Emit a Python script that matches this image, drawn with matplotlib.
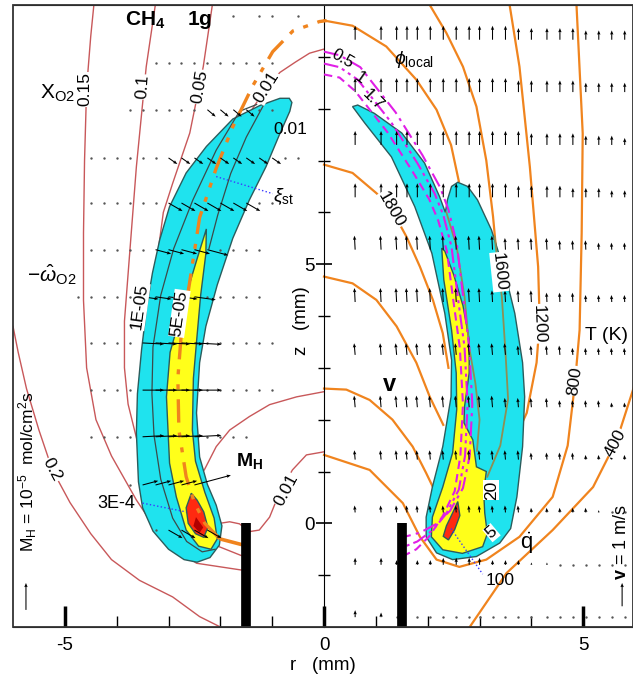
import numpy as np
import matplotlib.pyplot as plt
from matplotlib.patches import Polygon, Rectangle

plt.rcParams['font.family'] = ['Liberation Sans', 'DejaVu Sans']
plt.rcParams['mathtext.fontset'] = 'custom'
plt.rcParams['mathtext.rm'] = 'Liberation Sans'
plt.rcParams['mathtext.it'] = 'Liberation Sans:italic'
plt.rcParams['mathtext.bf'] = 'Liberation Sans:bold'
plt.rcParams['axes.unicode_minus'] = False

# ================================================================
# Data, (r, z) in mm
# ================================================================
WALL_R = [-1.5, 1.5]
WALL_Z = [-2.0, 0.0]

# left half: -omega_O2 regions
LEFT_CYAN = [(-0.67, 8.2), (-0.85, 8.2), (-1.24, 8.06), (-1.76, 7.8), (-2.27, 7.27), (-2.66, 6.76),
             (-2.98, 6.11), (-3.17, 5.47), (-3.31, 4.83), (-3.42, 4.18), (-3.52, 3.35), (-3.6, 2.5),
             (-3.62, 1.75), (-3.58, 0.8), (-3.5, 0.3), (-3.3, -0.15), (-3.0, -0.5), (-2.7, -0.7),
             (-2.45, -0.75), (-2.2, -0.66), (-2.02, -0.42), (-1.97, -0.05), (-2.08, 0.35), (-2.25, 0.75),
             (-2.4, 1.28), (-2.46, 2.13), (-2.4, 3.1), (-2.28, 3.8), (-2.06, 4.6), (-1.76, 5.5),
             (-1.44, 6.24), (-1.12, 6.88), (-0.86, 7.5), (-0.66, 7.95), (-0.62, 8.12)]
LEFT_YELLOW = [(-2.27, 5.68), (-2.45, 5.1), (-2.6, 4.6), (-2.8, 3.9), (-2.97, 3.3), (-3.04, 2.44),
               (-2.98, 1.16), (-2.85, 0.51), (-2.66, -0.13), (-2.42, -0.44), (-2.18, -0.5), (-2.06, -0.3),
               (-2.12, 0.1), (-2.3, 0.6), (-2.48, 1.2), (-2.54, 1.8), (-2.52, 2.8), (-2.46, 3.5),
               (-2.38, 4.4), (-2.28, 5.2)]
LEFT_RED = [(-2.56, 0.58), (-2.66, 0.3), (-2.62, 0.0), (-2.48, -0.2), (-2.32, -0.27), (-2.24, -0.08),
            (-2.32, 0.22), (-2.45, 0.45)]
LEFT_RED_CORE = [(-2.47, 0.12), (-2.52, -0.05), (-2.4, -0.18), (-2.33, -0.08)]
LEFT_LINE_1E5 = [(-1.3, 8.08), (-1.63, 7.95), (-2.08, 7.2), (-2.53, 6.24), (-2.9, 5.3), (-3.15, 4.4),
                 (-3.3, 3.4), (-3.32, 2.5), (-3.28, 1.7), (-3.15, 0.85), (-2.92, 0.1), (-2.65, -0.35),
                 (-2.35, -0.55), (-2.1, -0.5)]
LEFT_LINE_5E5 = [(-1.15, 8.1), (-1.5, 7.45), (-1.8, 6.75), (-2.05, 5.95), (-2.22, 5.3)]

# stoichiometric mixture fraction
XI_BASE = [(-1.55, -0.42), (-2.01, -0.3)]
XI_ST = [(-2.01, -0.3), (-2.3, 0.0), (-2.5, 0.4), (-2.66, 0.9), (-2.8, 1.8), (-2.82, 2.8), (-2.75, 3.7),
         (-2.6, 4.6), (-2.4, 5.9), (-2.08, 6.85), (-1.76, 7.65), (-1.37, 8.45), (-0.99, 9.1),
         (-0.6, 9.5), (-0.09, 9.68), (0.05, 9.7)]

# X_O2 contours
XO2_020 = [(-2.0, -2.0), (-2.4, -1.8), (-2.92, -1.42), (-3.56, -1.1), (-4.1, -0.7), (-4.5, -0.2),
           (-4.9, 0.4), (-5.24, 1.03), (-5.5, 1.8), (-5.74, 2.6), (-5.9, 3.3), (-6.0, 3.8)]
XO2_015 = [(-4.43, 10.1), (-4.5, 9.4), (-4.58, 8.4), (-4.62, 7.0), (-4.64, 5.6), (-4.64, 4.3),
           (-4.58, 3.0), (-4.4, 2.0), (-4.1, 1.3), (-3.62, 0.45), (-3.12, -0.3), (-2.46, -0.77),
           (-1.6, -0.9)]
XO2_010 = [(-3.24, 10.1), (-3.43, 8.81), (-3.62, 6.88), (-3.75, 5.2), (-3.85, 3.9), (-3.85, 3.0),
           (-3.78, 2.3), (-3.56, 1.41), (-3.24, 0.78), (-2.79, 0.12), (-2.4, -0.3), (-1.6, -0.62)]
XO2_005 = [(-2.14, 10.1), (-2.33, 8.81), (-2.59, 7.53), (-2.92, 6.56), (-3.1, 6.0), (-3.24, 4.95),
           (-3.37, 3.67)]
XO2_001 = [(0.0, 9.15), (-0.28, 9.07), (-0.55, 8.9), (-0.85, 8.7), (-1.1, 8.42), (-1.38, 8.0),
           (-1.6, 7.6)]
XO2_001B = [(-2.31, 1.03), (-2.08, 1.48), (-1.82, 1.8), (-1.44, 2.06), (-1.05, 2.29), (-0.53, 2.44),
            (0.0, 2.54)]
XO2_001C = [(-2.01, 0.0), (-1.82, 0.03), (-1.63, -0.01), (-1.44, -0.16), (-1.25, -0.13), (-1.05, 0.12),
            (-0.86, 0.59), (-0.61, 1.03), (-0.34, 1.32), (0.0, 1.38)]

# right half: heat release regions
RIGHT_CYAN = [(0.55, 8.04), (0.78, 7.73), (1.3, 7.07), (1.75, 6.11), (2.08, 5.21), (2.33, 4.05),
              (2.46, 3.15), (2.45, 2.44), (2.29, 1.48), (2.09, 0.7), (1.97, 0.12), (1.97, -0.26),
              (2.17, -0.57), (2.48, -0.7), (2.94, -0.64), (3.39, -0.38), (3.6, -0.1), (3.72, 0.51),
              (3.83, 1.48), (3.87, 2.44), (3.83, 3.1), (3.68, 4.05), (3.49, 4.83), (3.23, 5.66),
              (2.96, 6.24), (2.77, 6.5), (2.58, 6.58), (2.46, 6.5), (2.38, 6.24), (2.34, 6.0),
              (2.23, 6.3), (1.94, 6.95), (1.5, 7.53), (0.97, 7.91), (0.65, 8.07)]
RIGHT_YELLOW = [(2.27, 5.31), (2.31, 4.7), (2.46, 3.73), (2.55, 2.9), (2.56, 2.2), (2.48, 1.36),
                (2.29, 0.7), (2.09, 0.12), (2.07, -0.26), (2.29, -0.51), (2.67, -0.58), (3.06, -0.45),
                (3.15, -0.2), (3.1, 0.2), (3.08, 0.6), (3.13, 1.0), (2.94, 1.09), (2.87, 1.61),
                (2.7, 1.94), (2.71, 2.25), (2.8, 2.9), (2.8, 3.54), (2.68, 4.2), (2.5, 4.8), (2.33, 5.25)]
RIGHT_RED = [(2.58, 0.42), (2.48, 0.2), (2.36, -0.05), (2.3, -0.25), (2.4, -0.32), (2.52, -0.12),
             (2.62, 0.15)]
RIGHT_OLIVE_1 = [(2.36, 6.0), (2.56, 5.33), (2.71, 4.37), (2.8, 3.4), (2.92, 2.7), (3.0, 2.0), (2.95, 1.4)]
RIGHT_OLIVE_2 = [(3.29, 5.53), (3.43, 4.37), (3.5, 3.3), (3.55, 2.4), (3.4, 1.5), (3.15, 0.9)]

# local equivalence ratio
PHI_05 = [(0.0, 9.1), (0.3, 9.03), (0.7, 8.8), (1.38, 7.93), (1.9, 7.1), (2.24, 6.48), (2.4, 6.05),
          (2.56, 5.4), (2.68, 4.4), (2.8, 3.4), (2.86, 2.3), (2.81, 1.3), (2.68, 0.68), (2.43, 0.24),
          (2.15, -0.02), (1.85, -0.18), (1.55, -0.26)]
PHI_1 = [(0.0, 8.87), (0.3, 8.8), (0.65, 8.56), (1.3, 7.73), (1.8, 6.95), (2.13, 6.37), (2.3, 5.95),
         (2.46, 5.33), (2.58, 4.37), (2.71, 3.4), (2.77, 2.3), (2.72, 1.3), (2.6, 0.65), (2.36, 0.19),
         (2.1, -0.13), (1.8, -0.35), (1.55, -0.45)]
PHI_17 = [(0.0, 8.66), (0.3, 8.6), (0.6, 8.34), (1.22, 7.55), (1.7, 6.8), (2.03, 6.25), (2.2, 5.85),
          (2.37, 5.25), (2.49, 4.33), (2.62, 3.38), (2.68, 2.3), (2.63, 1.3), (2.52, 0.62),
          (2.29, 0.14), (2.03, -0.25), (1.78, -0.5), (1.55, -0.62)]

# temperature contours
T_TOP = [(0.0, 9.7), (0.55, 9.6), (1.2, 9.2), (1.78, 8.56), (2.17, 7.98), (2.45, 7.3), (2.6, 6.6)]
T_1800 = [(0.0, 6.92), (0.55, 6.76), (1.01, 6.37), (1.3, 6.06), (1.59, 5.53), (1.85, 4.95),
          (2.1, 4.31), (2.29, 3.67), (2.4, 3.0)]
T_MID1 = [(0.0, 4.76), (0.55, 4.63), (1.01, 4.31), (1.4, 3.8), (1.78, 3.1), (2.04, 2.44), (2.3, 1.9)]
T_MID2 = [(0.0, 2.6), (0.43, 2.58), (0.88, 2.38), (1.32, 2.0), (1.71, 1.48), (1.97, 0.97), (2.1, 0.7)]
T_800 = [(0.0, 1.32), (0.88, 1.03), (1.52, 0.39), (1.85, -0.26), (2.17, -0.7), (2.61, -0.84),
         (3.13, -0.7), (3.77, -0.26), (4.41, 0.51), (4.7, 1.5), (4.84, 2.7), (4.93, 3.73),
         (4.97, 5.6), (4.99, 7.52), (4.87, 10.0)]
T_1600 = [(2.04, 10.0), (2.36, 9.46), (2.68, 8.81), (2.94, 8.04), (3.13, 7.0), (3.26, 5.92),
          (3.35, 4.95), (3.43, 3.67)]
T_1200 = [(3.58, 10.0), (3.77, 8.81), (3.97, 6.88), (4.13, 4.95), (4.16, 3.9), (4.1, 3.1),
          (3.91, 2.13), (3.52, 1.28), (3.13, 0.7)]
T_400 = [(6.0, 2.7), (5.65, 1.61), (5.19, 0.7), (4.41, -0.13), (3.52, -0.96), (2.81, -2.0)]

# dotted leaders
LEAD_XI = [(-2.08, 6.69), (-0.99, 6.36)]
LEAD_3E4 = [(-3.5, 0.39), (-2.66, 0.22)]
LEAD_100 = [(2.45, -0.1), (3.06, -0.98)]

# M_H field (left): one char per column, ' ' none, '.' dot, digit = 2e-6 mol/cm2s
LEFT_R = [-4.75, -4.5, -4.25, -4.0, -3.75, -3.5, -3.25, -3.0, -2.75, -2.5, -2.25, -2.0,
          -1.75, -1.5, -1.25, -1.0, -0.75, -0.5]
LEFT_Z = [9.78, 8.89, 7.98, 7.05, 6.18, 5.28, 4.37, 3.48, 2.57, 1.67, 0.74, -0.13]
LEFT_MH = ["            . .. .",
           "      ..........  ",
           "    ......2222..  ",
           " ......222222222..",
           " ......3333333..  ",
           " .....33334....   ",
           ".....33334.....   ",
           " ....44445......  ",
           " ....44445......  ",
           " ....44445....    ",
           "    .33337        ",
           "      .3333       "]
LEFT_ANG = [0, 0, -40, -35, -30, -15, -8, -3, 0, 3, 15, -30]

# velocity field (right): digit = 0.1 m/s, '0' dot
RIGHT_R = [0.6, 1.1, 1.4, 1.6, 1.8, 2.05, 2.3, 2.55, 2.8, 3.0, 3.25, 3.5, 3.75, 4.0, 4.3,
           4.55, 4.8, 5.05, 5.3, 5.55, 5.8]
RIGHT_Z = [9.33, 8.32, 7.30, 6.29, 5.28, 4.27, 3.25, 2.24, 1.23, 0.21, -0.8, -1.81]
RIGHT_V = ["666666666666555554444",
           "666666666666555554444",
           "666666666666655554443",
           "666666666666555544433",
           "666666666665555444333",
           "666666666655554443333",
           "555555555555444433333",
           "555555555554444333322",
           "444444444444433332222",
           "333333333333322222100",
           "332 22333322211000000",
           "320 00000000000000000"]
RIGHT_TILT = [0, 0, 0, 0, 3, 3, 5, 5, 5, 5, 0, 0]

MH_UNIT = 2e-6
MH_REF = 1e-5
V_REF = 1.0

# ================================================================
# Figure
# ================================================================
CYAN = "#1fe3ee"
YELLOW = "#ffff1a"
RED = "#ff2a10"
EDGE = "#2b5c5c"
XRED = "#c8585a"
ORANGE = "#f0841e"
MAGENTA = "#e01ee6"
OLIVE = "#8e8f55"
BLUE = "#3a3aff"

fig = plt.figure(figsize=(6.33, 6.79), dpi=100)
ax = fig.add_axes([13/633, 52/679, 620/633, 622/679])
ax.set_xlim(-6, 5.96)
ax.set_ylim(-2, 10)


def line(pts, **kw):
    a = np.array(pts)
    ax.plot(a[:, 0], a[:, 1], **kw)


# contour lines under the flame regions
for pts in (XO2_020, XO2_015, XO2_010, XO2_005, XO2_001, XO2_001B, XO2_001C):
    line(pts, color=XRED, lw=1.0, zorder=1)
for pts in (T_TOP, T_1800, T_MID1, T_MID2, T_800, T_1600, T_1200, T_400):
    line(pts, color=ORANGE, lw=1.6, zorder=1)

for pts, fc in ((LEFT_CYAN, CYAN), (LEFT_YELLOW, YELLOW), (LEFT_RED, RED),
                (RIGHT_CYAN, CYAN), (RIGHT_YELLOW, YELLOW), (RIGHT_RED, RED)):
    ax.add_patch(Polygon(pts, closed=True, fc=fc, ec=EDGE, lw=1.0, zorder=2))
ax.add_patch(Polygon(LEFT_RED_CORE, closed=True, fc="#b00000", ec="none", zorder=2))

line(LEFT_LINE_1E5, color="#3c4a4a", lw=0.9, zorder=3)
line(LEFT_LINE_5E5, color="#3c4a4a", lw=0.9, zorder=3)
line(RIGHT_OLIVE_1, color=OLIVE, lw=1.3, zorder=3)
line(RIGHT_OLIVE_2, color=OLIVE, lw=1.3, zorder=3)

line(XI_BASE, color=ORANGE, lw=2.6, zorder=4, solid_capstyle='butt')
line(XI_ST, color=ORANGE, lw=2.4, zorder=4, dashes=(7, 3, 1.5, 3, 1.5, 3))

line(PHI_05, color=MAGENTA, lw=1.5, zorder=4, dashes=(7, 2.5, 1.5, 2.5))
line(PHI_1, color=MAGENTA, lw=1.5, zorder=4, dashes=(7, 2, 1.5, 2, 1.5, 2))
line(PHI_17, color=MAGENTA, lw=1.5, zorder=4, dashes=(4, 2.5))

for pts in (LEAD_XI, LEAD_3E4, LEAD_100):
    line(pts, color=BLUE, lw=1.0, ls=':', zorder=4)

for r in WALL_R:
    ax.plot([r, r], WALL_Z, color='black', lw=7, solid_capstyle='butt', zorder=6)

# vector fields
qkw = dict(angles='xy', scale_units='xy', color='black', width=0.0017,
           headwidth=3.2, headlength=4.0, headaxislength=3.6, minlength=0.4, zorder=5)

dx, dy, ax_, ay_ = [], [], [], []
au, av = [], []
for z, row, ang in zip(LEFT_Z, LEFT_MH, LEFT_ANG):
    for r, ch in zip(LEFT_R, row):
        if ch == ' ':
            continue
        if ch == '.':
            dx.append(r); dy.append(z)
        else:
            m = int(ch) * MH_UNIT
            ax_.append(r); ay_.append(z)
            au.append(m * np.cos(np.radians(ang))); av.append(m * np.sin(np.radians(ang)))
ax.scatter(dx, dy, s=3, color='#555555', zorder=5, linewidths=0)
ax.quiver(ax_, ay_, au, av, scale=MH_REF / 0.52, **qkw)

dx, dy, bx, by, bu, bv = [], [], [], [], [], []
for z, row, tilt in zip(RIGHT_Z, RIGHT_V, RIGHT_TILT):
    for r, ch in zip(RIGHT_R, row):
        if ch == ' ':
            continue
        if ch == '0':
            dx.append(r); dy.append(z)
        else:
            s = int(ch) * 0.1
            bx.append(r); by.append(z)
            bu.append(-s * np.sin(np.radians(tilt))); bv.append(s * np.cos(np.radians(tilt)))
ax.scatter(dx, dy, s=3, color='#555555', zorder=5, linewidths=0)
ax.quiver(bx, by, bu, bv, scale=V_REF / 0.45, **qkw)

# reference arrows
ax.quiver([-5.75], [-1.67], [0], [MH_REF], scale=MH_REF / 0.52, **qkw)
ax.quiver([5.75], [-1.6], [0], [V_REF], scale=V_REF / 0.45, **qkw)

# ================================================================
# Text
# ================================================================
wb = dict(fc='white', ec='none', pad=0.4)
ax.text(-3.0, 9.72, r"$\mathbf{CH_4}$    $\mathbf{1g}$", fontsize=15, ha='center', va='center', zorder=7)
ax.text(-5.15, 8.3, r"X$_{\rm O2}$", fontsize=15, ha='center', va='center', zorder=7)
ax.text(-5.25, 4.8, r"$-\hat{\omega}_{\rm O2}$", fontsize=15, ha='center', va='center', zorder=7)
for x, y, s, rot in ((-4.62, 8.37, "0.15", 90), (-3.5, 8.42, "0.1", 86), (-2.4, 8.42, "0.05", 80),
                     (-1.11, 8.42, "0.01", 58), (-5.24, 1.03, "0.2", -62), (-0.72, 0.64, "0.01", 62)):
    ax.text(x, y, s, fontsize=12.5, rotation=rot, ha='center', va='center', bbox=wb, zorder=7)
ax.text(-0.65, 7.6, "0.01", fontsize=12.5, ha='center', va='center', zorder=7)
ax.text(-3.56, 4.18, "1E-05", fontsize=12.5, rotation=82, ha='center', va='center', bbox=wb, zorder=7)
ax.text(-2.79, 4.05, "5E-05", fontsize=12.5, rotation=82, ha='center', va='center', bbox=wb, zorder=7)
ax.text(-4.0, 0.39, "3E-4", fontsize=13, ha='center', va='center', zorder=7)
ax.text(-1.7, 1.2, r"$\mathbf{M_H}$", fontsize=14, ha='left', va='center', zorder=7)
ax.text(-0.98, 6.3, r"$\xi_{\rm st}$", fontsize=14, ha='left', va='center', zorder=7)
ax.text(-5.72, 1.0, r"M$_{\rm H}$ = 10$^{-5}$  mol/cm$^2$s", fontsize=12.5, rotation=90,
        ha='center', va='center', zorder=7)

ax.text(1.35, 8.95, r"$\phi_{\rm local}$", fontsize=14, ha='left', va='center', zorder=7)
ax.text(0.36, 8.96, "0.5", fontsize=12, rotation=-30, ha='center', va='center', zorder=7)
ax.text(0.69, 8.6, "1", fontsize=12, rotation=-35, ha='center', va='center', zorder=7)
ax.text(0.94, 8.17, "1.7", fontsize=12, rotation=-45, ha='center', va='center', zorder=7)
for x, y, s, rot in ((1.3, 6.06, "1800", -60), (3.38, 4.85, "1600", -84), (4.14, 3.85, "1200", -88),
                     (4.84, 2.75, "800", 82), (5.62, 1.55, "400", 62),
                     (3.23, 0.64, "20", 90), (3.23, -0.18, "5", 40)):
    ax.text(x, y, s, fontsize=12.5, rotation=rot, ha='center', va='center', bbox=wb, zorder=7)
ax.text(3.39, -1.1, "100", fontsize=12.5, ha='center', va='center', zorder=7)
ax.text(3.91, -0.38, r"$\dot{\rm q}$", fontsize=16, ha='center', va='center', zorder=7)
ax.text(1.26, 2.67, "v", fontsize=17, fontweight='bold', ha='center', va='center', zorder=7)
ax.text(5.45, 3.63, "T (K)", fontsize=14, ha='center', va='center', zorder=7)
ax.text(5.73, -0.37, r"$\mathbf{v}$ = 1 m/s", fontsize=13, rotation=90, ha='center', va='center', zorder=7)
ax.text(-0.43, 3.92, "z   (mm)", fontsize=13.5, rotation=90, ha='center', va='center', zorder=7)

# ================================================================
# Axes
# ================================================================
ax.spines['left'].set_position(('data', 0))
ax.spines['right'].set_visible(False)
ax.add_patch(Rectangle((0, 0), 1, 1, transform=ax.transAxes, fill=False, ec='#333333',
                       lw=1.3, clip_on=False, zorder=8))
ax.xaxis.set_ticks_position('bottom')
ax.yaxis.set_ticks_position('left')
ax.set_xticks([-5, 0, 5])
ax.set_xticks([-4, -3, -2, -1, 1, 2, 3, 4], minor=True)
ax.set_yticks([0, 5])
ax.set_yticks([-1, 1, 2, 3, 4, 6, 7, 8, 9], minor=True)
ax.tick_params(axis='x', which='major', direction='in', length=15, width=2.5, labelsize=13.5, pad=7)
ax.tick_params(axis='x', which='minor', direction='in', length=8, width=1)
ax.tick_params(axis='y', which='major', direction='inout', length=12, width=1.2, labelsize=13.5, pad=1)
ax.tick_params(axis='y', which='minor', direction='inout', length=8, width=1)
ax.set_xlabel("r   (mm)", fontsize=13.5, labelpad=2)

fig.savefig("out.png", dpi=100)
